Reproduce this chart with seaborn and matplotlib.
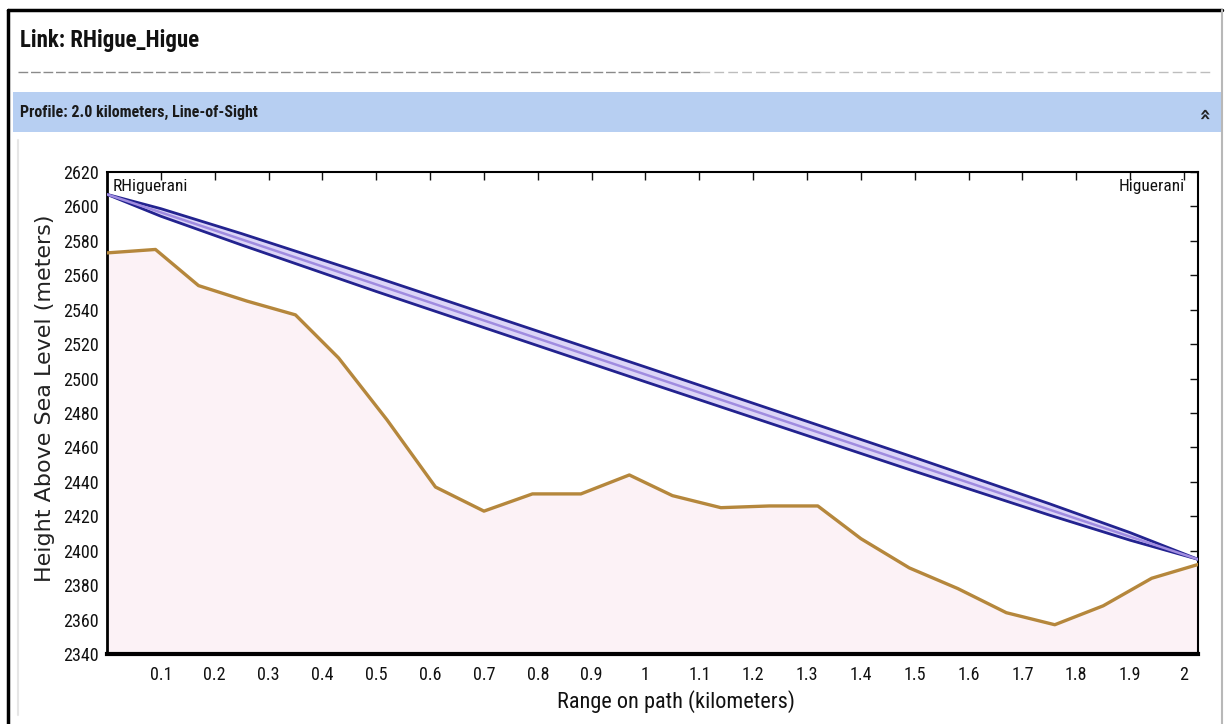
import numpy as np
import pandas as pd
import seaborn as sns
import matplotlib.pyplot as plt
from matplotlib import font_manager
from matplotlib.lines import Line2D
from matplotlib.patches import Rectangle

# --- DATA ---
range_km = [0.0, 0.09, 0.17, 0.26, 0.35, 0.43, 0.52, 0.61, 0.70, 0.79, 0.88, 0.97,
            1.05, 1.14, 1.23, 1.32, 1.40, 1.49, 1.58, 1.67, 1.76, 1.85, 1.94, 2.026]
terrain_m = [2573, 2575, 2554, 2545, 2537, 2512, 2476, 2437, 2423, 2433, 2433, 2444,
             2432, 2425, 2426, 2426, 2407, 2390, 2378, 2364, 2357, 2368, 2384, 2392]

los_km = [0.0, 2.026]
los_m = [2607, 2395]

zone_km = [0.0, 0.1, 0.25, 0.5, 1.0, 1.5, 1.75, 1.9, 2.026]
zone_upper_m = [2607, 2598.7, 2584.2, 2558.8, 2506.7, 2454.1, 2427.3, 2410.5, 2395]
zone_lower_m = [2607, 2594.3, 2577.6, 2550.6, 2498.1, 2446.1, 2420.7, 2406.1, 2395]

x_ticks = [0.1, 0.2, 0.3, 0.4, 0.5, 0.6, 0.7, 0.8, 0.9, 1.0,
           1.1, 1.2, 1.3, 1.4, 1.5, 1.6, 1.7, 1.8, 1.9, 2.0]
x_tick_labels = ["0.1", "0.2", "0.3", "0.4", "0.5", "0.6", "0.7", "0.8", "0.9", "1",
                 "1.1", "1.2", "1.3", "1.4", "1.5", "1.6", "1.7", "1.8", "1.9", "2"]
y_ticks = list(range(2340, 2621, 20))

site_left = "RHiguerani"
site_right = "Higuerani"

terrain_df = pd.DataFrame({"km": range_km, "m": terrain_m})
zone_df = pd.DataFrame({"km": zone_km, "upper": zone_upper_m, "lower": zone_lower_m})
los_df = pd.DataFrame({"km": los_km, "m": los_m})

sns.set_theme(style="white")
installed = {f.name for f in font_manager.fontManager.ttflist}
condensed = [n for n in ["Liberation Sans Narrow", "Roboto Condensed", "Open Sans Condensed",
                         "Noto Sans Condensed", "DejaVu Sans Condensed"] if n in installed]
body = condensed[:1] + ["Liberation Sans", "DejaVu Sans"]
plt.rcParams["font.family"] = body

W, H = 1229, 724
fig = plt.figure(figsize=(W / 100, H / 100), dpi=100)
fig.patch.set_facecolor("white")

def fx(px):
    return px / W

def fy(py):
    return 1 - py / H

# outer frame and header
fig.add_artist(Line2D([fx(8), fx(8)], [fy(10), fy(724)], color="black", lw=2.5))
fig.add_artist(Line2D([fx(8), fx(1222)], [fy(10), fy(10)], color="black", lw=2.5))
fig.add_artist(Line2D([fx(1222), fx(1222)], [fy(10), fy(724)], color="#b8b8b8", lw=1.5))
fig.add_artist(Line2D([fx(18), fx(18)], [fy(140), fy(715)], color="#e6e6e6", lw=1.5))
fig.add_artist(Line2D([fx(18), fx(700)], [fy(72), fy(72)], color="#8a8a8a", lw=1,
                      linestyle=(0, (7, 2))))
fig.add_artist(Line2D([fx(700), fx(1210)], [fy(72), fy(72)], color="#bdbdbd", lw=1,
                      linestyle=(0, (7, 3))))
fig.add_artist(Rectangle((fx(13), fy(132)), fx(1222) - fx(13), fy(92) - fy(132),
                         transform=fig.transFigure, facecolor="#b7cff2", edgecolor="none"))

fig.text(fx(20), fy(40), "Link: RHigue_Higue", fontsize=16.5, fontweight="bold",
         va="center", ha="left", color="#111111")
fig.text(fx(20), fy(112), "Profile: 2.0 kilometers, Line-of-Sight", fontsize=11.5,
         fontweight="bold", va="center", ha="left", color="#1a1a1a")
fig.text(fx(1204), fy(113), "\u00bb", fontsize=14, rotation=90, fontweight="bold",
         va="center", ha="center", color="#222222", family="DejaVu Sans")

# plot area
ax = fig.add_axes([fx(107), fy(654), fx(1198) - fx(107), fy(172) - fy(654)])
ax.set_facecolor("white")

ax.fill_between(terrain_df["km"], terrain_df["m"], 2340, color="#fcf2f6", zorder=1)
ax.fill_between(zone_df["km"], zone_df["lower"], zone_df["upper"], color="#dcd5f7", zorder=2)
sns.lineplot(data=zone_df, x="km", y="upper", ax=ax, color="#23238f", lw=2, zorder=3)
sns.lineplot(data=zone_df, x="km", y="lower", ax=ax, color="#23238f", lw=2, zorder=3)
sns.lineplot(data=los_df, x="km", y="m", ax=ax, color="#a08ce0", lw=1.8, zorder=3)
sns.lineplot(data=terrain_df, x="km", y="m", ax=ax, color="#b5873c", lw=2.4, zorder=4)

ax.set_xlim(0, 2.026)
ax.set_ylim(2340, 2620)
ax.set_xticks(x_ticks)
ax.set_xticklabels(x_tick_labels)
ax.set_yticks(y_ticks)
ax.tick_params(direction="in", top=True, right=True, length=6, width=1,
               labelsize=13, pad=6, colors="#111111")
ax.tick_params(axis="x", pad=9)
for side in ["left", "bottom", "top", "right"]:
    ax.spines[side].set_color("black")
    ax.spines[side].set_linewidth(1.5)
ax.spines["bottom"].set_linewidth(3)
ax.spines["left"].set_linewidth(2)

ax.set_xlabel("Range on path (kilometers)", fontsize=16, color="#111111")
ax.xaxis.set_label_coords(0.5215, -0.075)
ax.set_ylabel("Height Above Sea Level (meters)", fontsize=16, color="#222222",
              family="DejaVu Sans")
ax.yaxis.set_label_coords(-0.048, 0.53)

ax.text(0.005, 0.985, site_left, transform=ax.transAxes, ha="left", va="top",
        fontsize=12.5, color="#111111")
ax.text(0.988, 0.985, site_right, transform=ax.transAxes, ha="right", va="top",
        fontsize=12.5, color="#111111")

fig.savefig("out.png", dpi=100)
